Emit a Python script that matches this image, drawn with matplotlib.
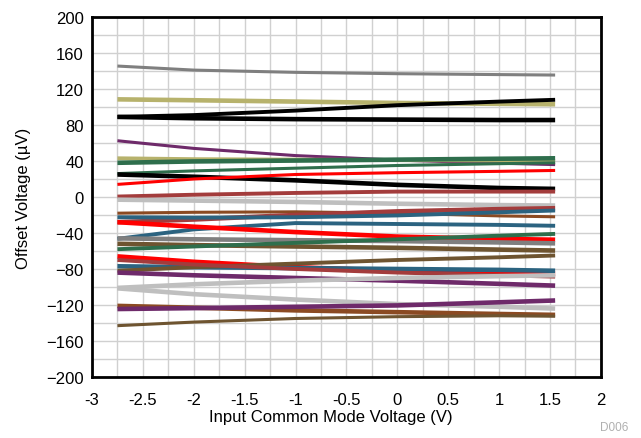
import numpy as np
import matplotlib.pyplot as plt

# input common mode voltage sample points (V)
vcm = [-2.75, -2.0, -1.0, 0.0, 1.0, 1.55]

# offset voltage per unit (uV)
gray_top   = [145.5, 141.0, 138.5, 137.0, 136.0, 135.5]
khaki_top  = [108.5, 107.5, 106.0, 104.5, 103.5, 103.0]
black_up   = [89.0, 91.0, 96.0, 102.0, 106.0, 108.0]
black_flat = [89.0, 87.5, 86.5, 86.0, 85.5, 85.5]
purple_1   = [62.5, 54.0, 46.0, 41.0, 37.5, 36.0]
khaki_2    = [43.0, 42.0, 41.5, 41.0, 40.5, 40.0]
green_1    = [38.0, 39.5, 40.5, 41.5, 42.5, 43.0]
green_2    = [26.0, 29.0, 32.0, 35.0, 37.0, 38.0]
black_down = [25.0, 22.5, 18.5, 13.5, 10.0, 9.0]
red_1      = [14.0, 20.0, 25.0, 27.0, 28.5, 29.5]
brred_1    = [0.5, 2.5, 4.5, 6.0, 6.0, 6.0]
lgray_1    = [-3.0, -4.0, -5.5, -7.5, -9.0, -9.5]
sienna_1   = [-18.0, -17.0, -16.5, -18.0, -21.0, -22.0]
brred_2    = [-28.0, -25.0, -20.0, -16.0, -13.5, -12.5]
teal_a     = [-22.5, -23.0, -22.5, -20.5, -17.0, -15.0]
teal_b     = [-46.5, -36.0, -29.0, -30.0, -31.0, -32.0]
red_2      = [-28.0, -33.0, -39.0, -44.0, -46.5, -47.5]
gray_mid   = [-46.0, -47.0, -48.0, -49.0, -50.5, -51.5]
olive_1    = [-52.0, -53.5, -55.0, -56.5, -58.5, -59.5]
green_3    = [-58.0, -55.0, -51.0, -47.0, -43.0, -41.0]
red_3      = [-66.0, -72.0, -78.0, -82.0, -84.5, -85.0]
teal_c     = [-77.0, -78.0, -79.0, -80.0, -81.0, -82.0]
olive_2    = [-82.0, -78.0, -74.0, -70.0, -67.0, -65.0]
brred_3    = [-70.0, -75.0, -80.0, -84.0, -87.0, -88.5]
purple_2   = [-84.0, -87.0, -90.0, -93.0, -96.5, -98.5]
lgray_2a   = [-101.0, -97.0, -93.0, -90.0, -88.0, -87.0]
lgray_2b   = [-101.5, -108.0, -114.0, -119.0, -122.0, -124.0]
sienna_2   = [-121.0, -123.0, -126.0, -128.0, -130.0, -131.0]
purple_3   = [-124.5, -123.5, -122.0, -120.5, -117.0, -115.0]
olive_3    = [-143.0, -139.0, -135.0, -133.0, -132.0, -132.5]

GRAY = '#7f7f7f'
KHAKI = '#b7b26c'
BLACK = '#000000'
PURPLE = '#6e2a6a'
GREEN = '#2e6e4c'
RED = '#ff0000'
BRRED = '#a33c3c'
LGRAY = '#bfbfbf'
SIENNA = '#8b4a22'
TEAL = '#2b6380'
OLIVE = '#6e5430'

curves = [
    (gray_top, GRAY, 2.2), (khaki_top, KHAKI, 3.3), (black_up, BLACK, 2.8),
    (black_flat, BLACK, 3.3), (purple_1, PURPLE, 2.2), (khaki_2, KHAKI, 2.8),
    (green_1, GREEN, 3.3), (green_2, GREEN, 2.2), (black_down, BLACK, 3.3),
    (red_1, RED, 2.2), (brred_1, BRRED, 2.8), (lgray_1, LGRAY, 3.3),
    (sienna_1, SIENNA, 2.2), (brred_2, BRRED, 3.3), (teal_a, TEAL, 2.8),
    (teal_b, TEAL, 2.8), (red_2, RED, 3.3), (gray_mid, GRAY, 3.3),
    (olive_1, OLIVE, 3.3), (green_3, GREEN, 2.8), (red_3, RED, 3.3),
    (teal_c, TEAL, 3.3), (olive_2, OLIVE, 2.8), (brred_3, BRRED, 2.8),
    (purple_2, PURPLE, 3.3), (lgray_2a, LGRAY, 3.3), (lgray_2b, LGRAY, 3.3),
    (sienna_2, SIENNA, 3.3), (purple_3, PURPLE, 3.3), (olive_3, OLIVE, 2.2),
]

plt.rcParams['font.family'] = ['Liberation Sans', 'DejaVu Sans']

fig = plt.figure(figsize=(6.41, 4.39), dpi=100)
ax = fig.add_axes([0.1435, 0.139, 0.794, 0.820])

for vals, col, lw in curves:
    ax.plot(vcm, vals, color=col, lw=lw, solid_capstyle='butt', zorder=3)

ax.set_xlim(-3, 2)
ax.set_ylim(-200, 200)
ax.set_xticks(np.arange(-3, 2.01, 0.5))
ax.set_xticklabels(['-3', '-2.5', '-2', '-1.5', '-1', '-0.5', '0', '0.5', '1', '1.5', '2'])
ax.set_yticks(np.arange(-200, 201, 40))
ax.set_xticks(np.arange(-3, 2.01, 0.25), minor=True)
ax.set_yticks(np.arange(-200, 201, 20), minor=True)
ax.grid(which='both', color='#d0d0d0', lw=1.0, zorder=0)
ax.tick_params(which='both', length=0, labelsize=12)
ax.tick_params(axis='x', pad=11)
ax.tick_params(axis='y', pad=6)
for s in ax.spines.values():
    s.set_linewidth(2.0)
    s.set_color('black')

ax.set_xlabel('Input Common Mode Voltage (V)', fontsize=12)
ax.xaxis.set_label_coords(0.47, -0.088)
ax.set_ylabel('Offset Voltage (µV)', fontsize=12, labelpad=11)
fig.text(0.98, 0.012, 'D006', color='#b0b0b0', fontsize=8.5, ha='right', va='bottom')

fig.savefig('out.png', dpi=100)
